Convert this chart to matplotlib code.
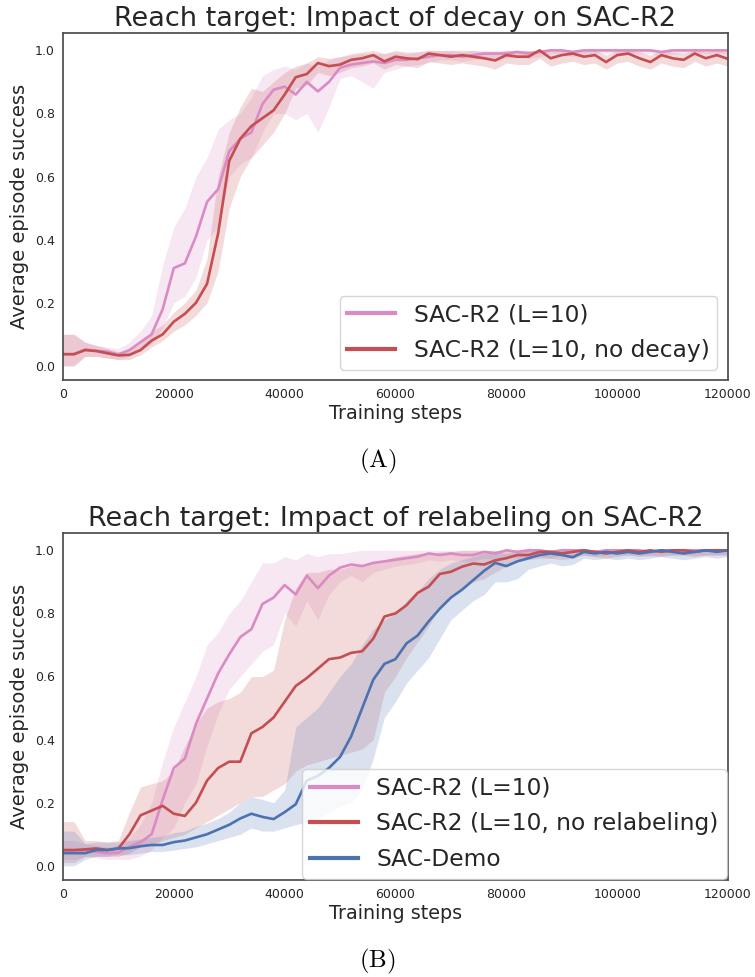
import numpy as np
import matplotlib
matplotlib.use("Agg")
import matplotlib.pyplot as plt

plt.rcParams["mathtext.fontset"] = "cm"

# training steps grid shared by all curves
steps = np.arange(0, 120001, 2000)

PINK = "#da8bc3"
RED = "#c44e52"
BLUE = "#4c72b0"

# ---------- (A) decay ----------
a_r2_mean = [0.037, 0.037, 0.052, 0.048, 0.045, 0.036, 0.05, 0.075, 0.10, 0.18,
             0.31, 0.325, 0.41, 0.52, 0.56, 0.68, 0.72, 0.74, 0.83, 0.875,
             0.885, 0.86, 0.90, 0.87, 0.90, 0.945, 0.955, 0.96, 0.965, 0.96,
             0.97, 0.97, 0.975, 0.98, 0.985, 0.985, 0.98, 0.985, 0.99, 0.99,
             0.99, 0.995, 0.99, 0.995, 1.0, 1.0, 0.995, 1.0, 1.0, 1.0,
             1.0, 1.0, 1.0, 1.0, 0.995, 1.0, 1.0, 1.0, 1.0, 1.0, 1.0]
a_r2_lo = [0.0, 0.0, 0.03, 0.03, 0.025, 0.02, 0.03, 0.05, 0.07, 0.12,
           0.20, 0.22, 0.28, 0.40, 0.44, 0.60, 0.64, 0.66, 0.74, 0.80,
           0.80, 0.78, 0.80, 0.74, 0.82, 0.91, 0.92, 0.90, 0.88, 0.93,
           0.94, 0.95, 0.955, 0.96, 0.97, 0.97, 0.965, 0.97, 0.975, 0.975,
           0.975, 0.98, 0.975, 0.98, 0.99, 0.99, 0.98, 0.99, 0.99, 0.99,
           0.99, 0.99, 0.99, 0.99, 0.98, 0.99, 0.99, 0.99, 0.99, 0.99, 0.99]
a_r2_hi = [0.10, 0.10, 0.075, 0.065, 0.06, 0.055, 0.075, 0.11, 0.16, 0.32,
           0.44, 0.50, 0.60, 0.66, 0.75, 0.78, 0.80, 0.85, 0.92, 0.94,
           0.95, 0.94, 0.96, 0.95, 0.97, 0.98, 0.985, 0.99, 0.99, 0.99,
           0.995, 0.99, 0.995, 1.0, 1.0, 1.0, 0.995, 1.0, 1.0, 1.0,
           1.0, 1.0, 1.0, 1.0, 1.0, 1.0, 1.0, 1.0, 1.0, 1.0,
           1.0, 1.0, 1.0, 1.0, 1.0, 1.0, 1.0, 1.0, 1.0, 1.0, 1.0]

a_nodecay_mean = [0.037, 0.037, 0.05, 0.047, 0.04, 0.033, 0.035, 0.05, 0.08, 0.10,
                  0.14, 0.165, 0.20, 0.26, 0.42, 0.65, 0.72, 0.76, 0.785, 0.81,
                  0.86, 0.915, 0.925, 0.96, 0.95, 0.955, 0.97, 0.975, 0.985, 0.965,
                  0.98, 0.975, 0.972, 0.99, 0.985, 0.98, 0.985, 0.98, 0.975, 0.968,
                  0.985, 0.98, 0.98, 1.0, 0.975, 0.985, 0.99, 0.98, 0.985, 0.963,
                  0.985, 0.99, 0.975, 0.963, 0.985, 0.975, 0.97, 0.99, 0.975, 0.985, 0.973]
a_nodecay_lo = [0.0, 0.0, 0.03, 0.03, 0.025, 0.02, 0.02, 0.035, 0.06, 0.08,
                0.11, 0.13, 0.16, 0.20, 0.30, 0.50, 0.60, 0.66, 0.70, 0.74,
                0.80, 0.88, 0.89, 0.93, 0.92, 0.93, 0.945, 0.95, 0.96, 0.94,
                0.955, 0.95, 0.945, 0.965, 0.96, 0.955, 0.96, 0.955, 0.95, 0.94,
                0.96, 0.955, 0.955, 0.975, 0.95, 0.96, 0.965, 0.955, 0.96, 0.94,
                0.96, 0.965, 0.95, 0.94, 0.96, 0.95, 0.945, 0.965, 0.95, 0.96, 0.95]
a_nodecay_hi = [0.10, 0.10, 0.075, 0.065, 0.055, 0.045, 0.05, 0.07, 0.11, 0.13,
                0.17, 0.20, 0.24, 0.34, 0.60, 0.74, 0.82, 0.88, 0.87, 0.90,
                0.93, 0.95, 0.96, 0.98, 0.975, 0.98, 0.99, 0.995, 1.0, 0.99,
                1.0, 0.995, 0.995, 1.0, 1.0, 1.0, 1.0, 1.0, 0.995, 0.99,
                1.0, 1.0, 1.0, 1.0, 0.995, 1.0, 1.0, 1.0, 1.0, 0.985,
                1.0, 1.0, 0.995, 0.985, 1.0, 0.995, 0.99, 1.0, 0.995, 1.0, 0.995]

# ---------- (B) relabeling ----------
b_r2_mean = [0.045, 0.045, 0.05, 0.045, 0.04, 0.042, 0.06, 0.075, 0.10, 0.21,
             0.31, 0.34, 0.45, 0.53, 0.61, 0.67, 0.725, 0.75, 0.83, 0.85,
             0.89, 0.86, 0.92, 0.88, 0.92, 0.945, 0.955, 0.95, 0.96, 0.965,
             0.97, 0.975, 0.98, 0.99, 0.985, 0.99, 0.985, 0.985, 0.995, 0.99,
             1.0, 0.995, 1.0, 1.0, 0.995, 1.0, 1.0, 1.0, 0.995, 1.0,
             1.0, 1.0, 1.0, 0.995, 1.0, 1.0, 1.0, 1.0, 1.0, 1.0, 1.0]
b_r2_lo = [0.02, 0.02, 0.03, 0.025, 0.02, 0.02, 0.02, 0.03, 0.05, 0.09,
           0.12, 0.20, 0.26, 0.38, 0.48, 0.56, 0.60, 0.64, 0.68, 0.70,
           0.80, 0.76, 0.84, 0.78, 0.86, 0.90, 0.92, 0.90, 0.93, 0.94,
           0.95, 0.955, 0.96, 0.97, 0.965, 0.97, 0.965, 0.965, 0.975, 0.97,
           0.98, 0.975, 0.98, 0.98, 0.975, 0.985, 0.985, 0.985, 0.98, 0.985,
           0.985, 0.985, 0.985, 0.98, 0.985, 0.985, 0.985, 0.985, 0.985, 0.985, 0.985]
b_r2_hi = [0.08, 0.08, 0.07, 0.065, 0.06, 0.065, 0.09, 0.13, 0.20, 0.33,
           0.44, 0.52, 0.60, 0.70, 0.74, 0.80, 0.84, 0.90, 0.96, 0.96,
           0.98, 0.97, 0.99, 0.98, 0.99, 0.99, 0.995, 1.0, 1.0, 1.0,
           1.0, 1.0, 1.0, 1.0, 1.0, 1.0, 1.0, 1.0, 1.0, 1.0,
           1.0, 1.0, 1.0, 1.0, 1.0, 1.0, 1.0, 1.0, 1.0, 1.0,
           1.0, 1.0, 1.0, 1.0, 1.0, 1.0, 1.0, 1.0, 1.0, 1.0, 1.0]

b_norelab_mean = [0.05, 0.05, 0.052, 0.055, 0.05, 0.055, 0.10, 0.16, 0.175, 0.19,
                  0.165, 0.158, 0.20, 0.27, 0.31, 0.33, 0.33, 0.42, 0.44, 0.47,
                  0.52, 0.57, 0.595, 0.625, 0.655, 0.66, 0.675, 0.68, 0.72, 0.79,
                  0.80, 0.826, 0.865, 0.885, 0.925, 0.932, 0.948, 0.958, 0.955, 0.968,
                  0.975, 0.985, 0.985, 0.995, 0.995, 0.99, 0.995, 1.0, 0.995, 0.99,
                  0.995, 1.0, 0.995, 1.0, 0.995, 1.0, 1.0, 0.995, 1.0, 1.0, 1.0]
b_norelab_lo = [0.01, 0.01, 0.03, 0.03, 0.03, 0.03, 0.04, 0.06, 0.07, 0.08,
                0.09, 0.10, 0.12, 0.14, 0.16, 0.18, 0.20, 0.22, 0.22, 0.24,
                0.26, 0.30, 0.32, 0.33, 0.34, 0.35, 0.36, 0.37, 0.40, 0.55,
                0.60, 0.66, 0.71, 0.76, 0.82, 0.85, 0.88, 0.90, 0.91, 0.93,
                0.95, 0.965, 0.97, 0.975, 0.975, 0.97, 0.975, 0.985, 0.98, 0.975,
                0.98, 0.985, 0.98, 0.985, 0.98, 0.985, 0.985, 0.98, 0.985, 0.985, 0.985]
b_norelab_hi = [0.14, 0.14, 0.08, 0.08, 0.075, 0.08, 0.17, 0.25, 0.26, 0.27,
                0.30, 0.38, 0.45, 0.50, 0.52, 0.53, 0.55, 0.60, 0.60, 0.62,
                0.78, 0.88, 0.93, 0.93, 0.94, 0.94, 0.95, 0.95, 0.96, 0.97,
                0.98, 0.985, 0.99, 0.99, 0.995, 0.995, 1.0, 1.0, 1.0, 1.0,
                1.0, 1.0, 1.0, 1.0, 1.0, 1.0, 1.0, 1.0, 1.0, 1.0,
                1.0, 1.0, 1.0, 1.0, 1.0, 1.0, 1.0, 1.0, 1.0, 1.0, 1.0]

b_demo_mean = [0.04, 0.04, 0.04, 0.05, 0.05, 0.055, 0.056, 0.062, 0.066, 0.066,
               0.075, 0.08, 0.09, 0.10, 0.115, 0.13, 0.15, 0.165, 0.155, 0.148,
               0.17, 0.195, 0.27, 0.285, 0.31, 0.345, 0.41, 0.50, 0.59, 0.64,
               0.655, 0.705, 0.73, 0.775, 0.815, 0.85, 0.875, 0.905, 0.935, 0.96,
               0.95, 0.965, 0.975, 0.985, 0.99, 0.985, 0.978, 0.995, 0.99, 0.995,
               0.99, 0.995, 0.99, 0.995, 1.0, 0.995, 0.99, 0.995, 1.0, 0.995, 1.0]
b_demo_lo = [0.0, 0.0, 0.02, 0.03, 0.03, 0.035, 0.035, 0.04, 0.045, 0.045,
             0.05, 0.055, 0.06, 0.07, 0.08, 0.09, 0.10, 0.12, 0.11, 0.11,
             0.12, 0.13, 0.14, 0.15, 0.17, 0.19, 0.20, 0.24, 0.34, 0.47,
             0.52, 0.58, 0.62, 0.66, 0.72, 0.78, 0.81, 0.84, 0.86, 0.90,
             0.90, 0.91, 0.94, 0.95, 0.96, 0.95, 0.955, 0.975, 0.97, 0.975,
             0.97, 0.975, 0.97, 0.975, 0.98, 0.975, 0.97, 0.975, 0.98, 0.975, 0.98]
b_demo_hi = [0.11, 0.11, 0.07, 0.075, 0.075, 0.075, 0.08, 0.085, 0.09, 0.095,
             0.105, 0.11, 0.125, 0.135, 0.15, 0.17, 0.20, 0.22, 0.21, 0.20,
             0.24, 0.44, 0.47, 0.50, 0.55, 0.60, 0.64, 0.70, 0.75, 0.78,
             0.80, 0.84, 0.87, 0.91, 0.94, 0.96, 0.97, 0.98, 0.99, 0.995,
             0.99, 0.995, 1.0, 1.0, 1.0, 1.0, 1.0, 1.0, 1.0, 1.0,
             1.0, 1.0, 1.0, 1.0, 1.0, 1.0, 1.0, 1.0, 1.0, 1.0, 1.0]

panels = [
    {
        "title": "Reach target: Impact of decay on SAC-R2",
        "caption": r"$(\mathrm{A})$",
        "series": [
            ("SAC-R2 (L=10)", PINK, a_r2_mean, a_r2_lo, a_r2_hi),
            ("SAC-R2 (L=10, no decay)", RED, a_nodecay_mean, a_nodecay_lo, a_nodecay_hi),
        ],
        "rect": [0.0834, 0.611, 0.8808, 0.3552],
        "cap_y": 0.528,
        "leg_pad": 0.45,
    },
    {
        "title": "Reach target: Impact of relabeling on SAC-R2",
        "caption": r"$(\mathrm{B})$",
        "series": [
            ("SAC-R2 (L=10)", PINK, b_r2_mean, b_r2_lo, b_r2_hi),
            ("SAC-R2 (L=10, no relabeling)", RED, b_norelab_mean, b_norelab_lo, b_norelab_hi),
            ("SAC-Demo", BLUE, b_demo_mean, b_demo_lo, b_demo_hi),
        ],
        "rect": [0.0834, 0.0993, 0.8808, 0.3552],
        "cap_y": 0.0155,
        "leg_pad": 0.06,
    },
]

fig = plt.figure(figsize=(7.55, 9.77), dpi=100)
TXT = "#262626"

for p in panels:
    ax = fig.add_axes(p["rect"])
    for label, color, mean, lo, hi in p["series"]:
        ax.fill_between(steps, lo, hi, color=color, alpha=0.2, linewidth=0)
        ax.plot(steps, mean, color=color, lw=1.9, label=label)
    ax.set_xlim(0, 120000)
    ax.set_ylim(-0.045, 1.055)
    ax.set_xticks(np.arange(0, 120001, 20000))
    ax.set_yticks([0.0, 0.2, 0.4, 0.6, 0.8, 1.0])
    ax.tick_params(axis="both", length=0, labelsize=9, colors=TXT, pad=6)
    for s in ax.spines.values():
        s.set_color("0.3")
        s.set_linewidth(1.25)
    ax.set_title(p["title"], fontsize=19.5, color=TXT, pad=5)
    ax.set_xlabel("Training steps", fontsize=13.8, color=TXT, labelpad=2)
    ax.set_ylabel("Average episode success", fontsize=14, color=TXT, labelpad=4)
    leg = ax.legend(loc="lower right", fontsize=16.8, handlelength=2.05,
                    framealpha=0.8, borderpad=0.33, labelspacing=0.54,
                    handletextpad=0.8, borderaxespad=p["leg_pad"])
    for t in leg.get_texts():
        t.set_color(TXT)
    for ln in leg.get_lines():
        ln.set_linewidth(3)
    fig.text(0.5, p["cap_y"], p["caption"], ha="center", va="center",
             fontsize=18, color="black")

fig.savefig("out.png", dpi=100)
